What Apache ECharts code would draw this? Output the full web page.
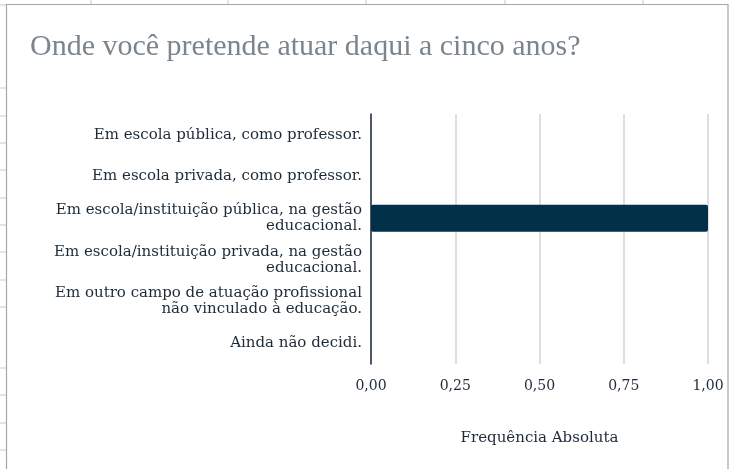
<!DOCTYPE html>
<html>
<head>
<meta charset="utf-8">
<script src="https://cdn.jsdelivr.net/npm/echarts@6/dist/echarts.min.js"></script>
<style>
html,body{margin:0;padding:0;background:#fff;}
#chart{width:729px;height:469px;}
</style>
</head>
<body>
<div id="chart"></div>
<script>
const titleText = 'Onde você pretende atuar daqui a cinco anos?';
const categories = [
  'Em escola pública, como professor.',
  'Em escola privada, como professor.',
  'Em escola/instituição pública, na gestão\neducacional.',
  'Em escola/instituição privada, na gestão\neducacional.',
  'Em outro campo de atuação profissional\nnão vinculado à educação.',
  'Ainda não decidi.'
];
const values = [0, 0, 1, 0, 0, 0];
const xTicks = [0, 0.25, 0.5, 0.75, 1];
const xAxisName = 'Frequência Absoluta';

// spreadsheet background decoration
const topCols = [91, 228, 366, 505, 643];
const leftRows = [88, 116, 143, 170, 198, 225, 252, 280, 307, 368, 395, 423, 450];
const deco = [];
topCols.forEach(x => deco.push({type:'line', shape:{x1:x,y1:0,x2:x,y2:4}, style:{stroke:'#d9d9d9', lineWidth:1.5}, silent:true}));
leftRows.forEach(y => deco.push({type:'line', shape:{x1:0,y1:y,x2:6,y2:y}, style:{stroke:'#dcdcdc', lineWidth:1.5}, silent:true}));
deco.push({type:'line', shape:{x1:0,y1:5,x2:6,y2:5}, style:{stroke:'#dcdcdc', lineWidth:1.5}, silent:true});
deco.push({type:'polyline', shape:{points:[[6.5,469],[6.5,4.5],[728,4.5],[728,469]]}, style:{stroke:'#a6a6a6', lineWidth:1.2, fill:null}, silent:true});

const chart = echarts.init(document.getElementById('chart'));
chart.setOption({
  animation: false,
  backgroundColor: '#ffffff',
  title: {
    text: titleText,
    left: 25, top: 27,
    textStyle: {fontFamily: 'Liberation Serif', fontSize: 30, fontWeight: 'normal', color: '#7b858e'}
  },
  graphic: deco,
  grid: {left: 371, right: 21, top: 114, bottom: 105, containLabel: false},
  xAxis: {
    type: 'value', min: 0, max: 1, interval: 0.25,
    axisLine: {show: false},
    axisTick: {show: false},
    splitLine: {lineStyle: {color: '#d4d4d4', width: 1.5}},
    axisLabel: {
      margin: 15,
      fontFamily: 'DejaVu Serif', fontSize: 14, color: '#1c2b39',
      formatter: v => v.toFixed(2).replace('.', ',')
    },
    name: xAxisName,
    nameLocation: 'middle',
    nameGap: 67,
    nameTextStyle: {fontFamily: 'DejaVu Serif', fontSize: 15, color: '#1c2b39'}
  },
  yAxis: {
    type: 'category', data: categories, inverse: true,
    axisLine: {lineStyle: {color: '#1c2b39', width: 1.5}},
    axisTick: {show: false},
    axisLabel: {margin: 9, fontFamily: 'DejaVu Serif', fontSize: 15, color: '#1c2b39', lineHeight: 16}
  },
  series: [{
    type: 'bar', data: values, barWidth: 27,
    itemStyle: {color: '#033049', borderRadius: 2}
  }]
});
</script>
</body>
</html>
